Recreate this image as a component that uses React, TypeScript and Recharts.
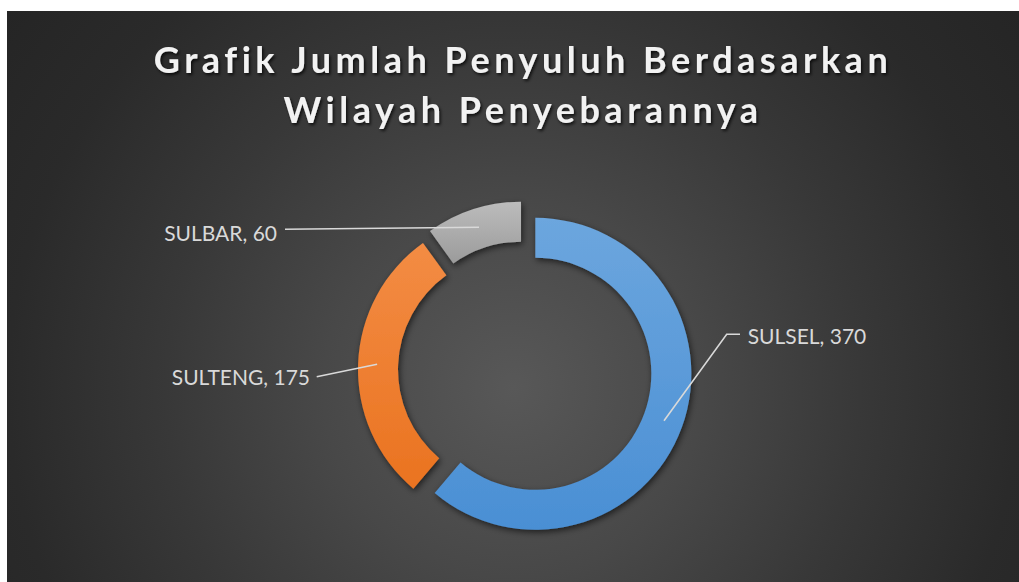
import React from 'react';
import { PieChart, Pie, Cell, Sector } from 'recharts';

const categories = ['SULSEL', 'SULTENG', 'SULBAR'];
const values = [370, 175, 60];
const titleLines = ['Grafik Jumlah Penyuluh Berdasarkan', 'Wilayah Penyebarannya'];

const data = categories.map((name, i) => ({ name, value: values[i] }));

const GRADS = [
  ['#6ca6de', '#4a8fd4'],
  ['#f38c44', '#ea7320'],
  ['#bcbcbc', '#9b9b9b'],
];
const EXPLODE = [11, 11, 13];

const W = 1012;
const H = 571;
const CX = 513;
const CY = 354;
const INNER = 116;
const OUTER = 156;
const ANCHOR_R = 137;

type LL = { elbow: number[] | null; end: number[]; text: number[]; anchor: 'start' | 'end' };
const LABEL_LAYOUT: LL[] = [
  { elbow: [201.7, -35.7], end: [215, -35.7], text: [222.7, -34.5], anchor: 'start' },
  { elbow: null, end: [-208.3, 6.7], text: [-215, 6.7], anchor: 'end' },
  { elbow: null, end: [-240, -140.7], text: [-248, -138], anchor: 'end' },
];

const RAD = Math.PI / 180;

function explodeOffset(idx: number, midAngle: number) {
  const d = EXPLODE[idx] || 0;
  return { dx: Math.cos(midAngle * RAD) * d, dy: -Math.sin(midAngle * RAD) * d };
}

const renderShape = (props: any) => {
  const idx = categories.indexOf(props.name ?? props.payload?.name);
  const { dx, dy } = explodeOffset(idx, props.midAngle);
  return <Sector {...props} cx={props.cx + dx} cy={props.cy + dy} />;
};

const renderLabel = (props: any) => {
  const idx = categories.indexOf(props.name ?? props.payload?.name);
  if (idx < 0) return null;
  const { dx, dy } = explodeOffset(idx, props.midAngle);
  const ax = props.cx + dx + Math.cos(props.midAngle * RAD) * ANCHOR_R;
  const ay = props.cy + dy - Math.sin(props.midAngle * RAD) * ANCHOR_R;
  const L = LABEL_LAYOUT[idx];
  const pts: number[][] = [[ax, ay]];
  if (L.elbow) pts.push([props.cx + L.elbow[0], props.cy + L.elbow[1]]);
  pts.push([props.cx + L.end[0], props.cy + L.end[1]]);
  return (
    <g>
      <polyline
        points={pts.map((p) => p.join(',')).join(' ')}
        fill="none"
        stroke="#d9d9d9"
        strokeWidth={1.6}
      />
      <text
        x={props.cx + L.text[0]}
        y={props.cy + L.text[1]}
        textAnchor={L.anchor}
        dominantBaseline="central"
        fill="#d9d9d9"
        fontSize={21}
        fontFamily="Lato, 'Open Sans', sans-serif"
      >
        {`${props.name}, ${props.value}`}
      </text>
    </g>
  );
};

export default function App() {
  return (
    <div
      style={{
        position: 'absolute',
        left: 7,
        top: 11,
        width: W,
        height: H,
        background:
          'radial-gradient(circle farthest-corner at 50% 66%, #585858 0%, #484848 30%, #383838 55%, #2a2a2a 80%, #252525 100%)',
        overflow: 'hidden',
      }}
    >
      <svg width={W} height={140} style={{ position: 'absolute', left: 0, top: 0 }}>
        <defs>
          <filter id="tshadow" x="-10%" y="-30%" width="120%" height="160%">
            <feDropShadow dx="1.5" dy="2" stdDeviation="1.6" floodColor="#000" floodOpacity="0.75" />
          </filter>
        </defs>
        {titleLines.map((t, i) => (
          <text
            key={i}
            x={CX + 3}
            y={62 + i * 50}
            textAnchor="middle"
            fill="#f2f2f2"
            fontSize={36}
            fontWeight={700}
            letterSpacing={4.5}
            fontFamily="Lato, 'Open Sans', sans-serif"
            filter="url(#tshadow)"
          >
            {t}
          </text>
        ))}
      </svg>
      <div style={{ position: 'absolute', left: 0, top: 0 }}>
        <PieChart width={W} height={H}>
          <defs>
            {GRADS.map((g, i) => (
              <linearGradient key={i} id={`sg${i}`} x1="0" y1="0" x2="0" y2="1">
                <stop offset="0%" stopColor={g[0]} />
                <stop offset="100%" stopColor={g[1]} />
              </linearGradient>
            ))}
            <filter id="sshadow" x="-20%" y="-20%" width="140%" height="140%">
              <feDropShadow dx="1.5" dy="2.5" stdDeviation="3" floodColor="#000" floodOpacity="0.6" />
            </filter>
          </defs>
          <Pie
            data={data}
            dataKey="value"
            nameKey="name"
            cx={CX}
            cy={CY}
            innerRadius={INNER}
            outerRadius={OUTER}
            startAngle={90}
            endAngle={-270}
            paddingAngle={0}
            stroke="none"
            isAnimationActive={false}
            shape={renderShape}
            label={renderLabel}
            labelLine={false}
          >
            {data.map((d, i) => (
              <Cell key={d.name} fill={`url(#sg${i})`} stroke="none" style={{ filter: 'url(#sshadow)' }} />
            ))}
          </Pie>
        </PieChart>
      </div>
    </div>
  );
}
